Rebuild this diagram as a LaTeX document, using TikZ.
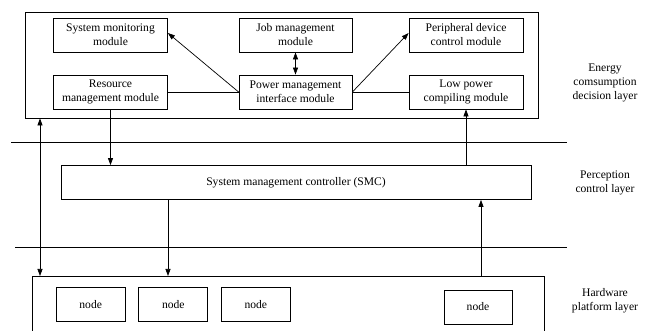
\documentclass[tikz,border=0pt]{standalone}
\usepackage{fontspec}
\setmainfont{Liberation Serif}
\usetikzlibrary{arrows.meta}
\begin{document}
\begin{tikzpicture}[x=1pt,y=-1pt,
  every node/.style={font=\fontsize{11.6}{14}\selectfont},
  box/.style={draw,line width=0.8pt,inner sep=0pt,align=center,minimum height=34pt},
  modbox/.style={box,minimum width=114pt},
  hwnode/.style={box,minimum width=69pt},
  arr/.style={line width=0.7pt,-{Triangle[length=7pt,width=5pt]}},
  darr/.style={line width=0.7pt,{Triangle[length=7pt,width=5pt]}-{Triangle[length=7pt,width=5pt]}},
  conn/.style={line width=0.7pt},
  layerline/.style={line width=0.7pt},
  layerlabel/.style={align=center}]
\useasboundingbox (0,0) rectangle (646,331);
\clip (0,0) rectangle (646,331);
% top layer
\node[box,minimum width=513pt,minimum height=106pt] (top) at (281.5,65) {};
\node[modbox] (sysmon) at (110.5,35) {System monitoring\\module};
\node[box,minimum width=113pt] (job) at (295.5,35) {Job management\\module};
\node[modbox] (periph) at (466,35) {Peripheral device\\control module};
\node[modbox] (resmgmt) at (110.5,92) {Resource\\management module};
\node[box,minimum width=113pt] (power) at (295.5,92) {Power management\\interface module};
\node[modbox] (lowpow) at (466,92) {Low power\\compiling module};
% SMC
\node[box,minimum width=470pt] (smc) at (296,182.5) {System management controller (SMC)};
% hardware
\node[box,minimum width=512pt,minimum height=80pt,anchor=north west] (hw) at (32,276) {};
\node[hwnode] (n1) at (90.7,304.5) {node};
\node[hwnode] (n2) at (173.3,304.5) {node};
\node[hwnode] (n3) at (255.8,304.5) {node};
\node[box,minimum width=68pt] (n4) at (478,307) {node};
% layer lines
\coordinate (l1a) at (11,142); \coordinate (l1b) at (567,142);
\coordinate (l2a) at (15,247); \coordinate (l2b) at (567,247);
\draw[layerline] (l1a) -- (l1b);
\draw[layerline] (l2a) -- (l2b);
% labels
\node[layerlabel] (lab1) at (605,83) {Energy\\comsumption\\decision layer};
\node[layerlabel] (lab2) at (605,183) {Perception\\control layer};
\node[layerlabel] (lab3) at (605,300.5) {Hardware\\platform layer};
% connectors in top layer
\draw[arr] (power.west) -- ([yshift=2pt]sysmon.east);
\draw[arr] (power.east) -- ([yshift=2pt]periph.west);
\draw[darr] (job.south) -- (power.north);
\draw[conn] (resmgmt.east) -- (power.west);
\draw[conn] (power.east) -- (lowpow.west);
% vertical connectors
\coordinate (xa) at (40,0);
\coordinate (xb) at (168,0);
\coordinate (xc) at (481,0);
\coordinate (xd) at (466,0);
\draw[darr] (top.south -| xa) -- (hw.north -| xa);
\draw[arr] (resmgmt.south) -- (resmgmt.south |- smc.north);
\draw[arr] (smc.south -| xb) -- (hw.north -| xb);
\draw[arr] (hw.north -| xc) -- (smc.south -| xc);
\draw[arr] (smc.north -| xd) -- (lowpow.south);
\end{tikzpicture}
\end{document}
